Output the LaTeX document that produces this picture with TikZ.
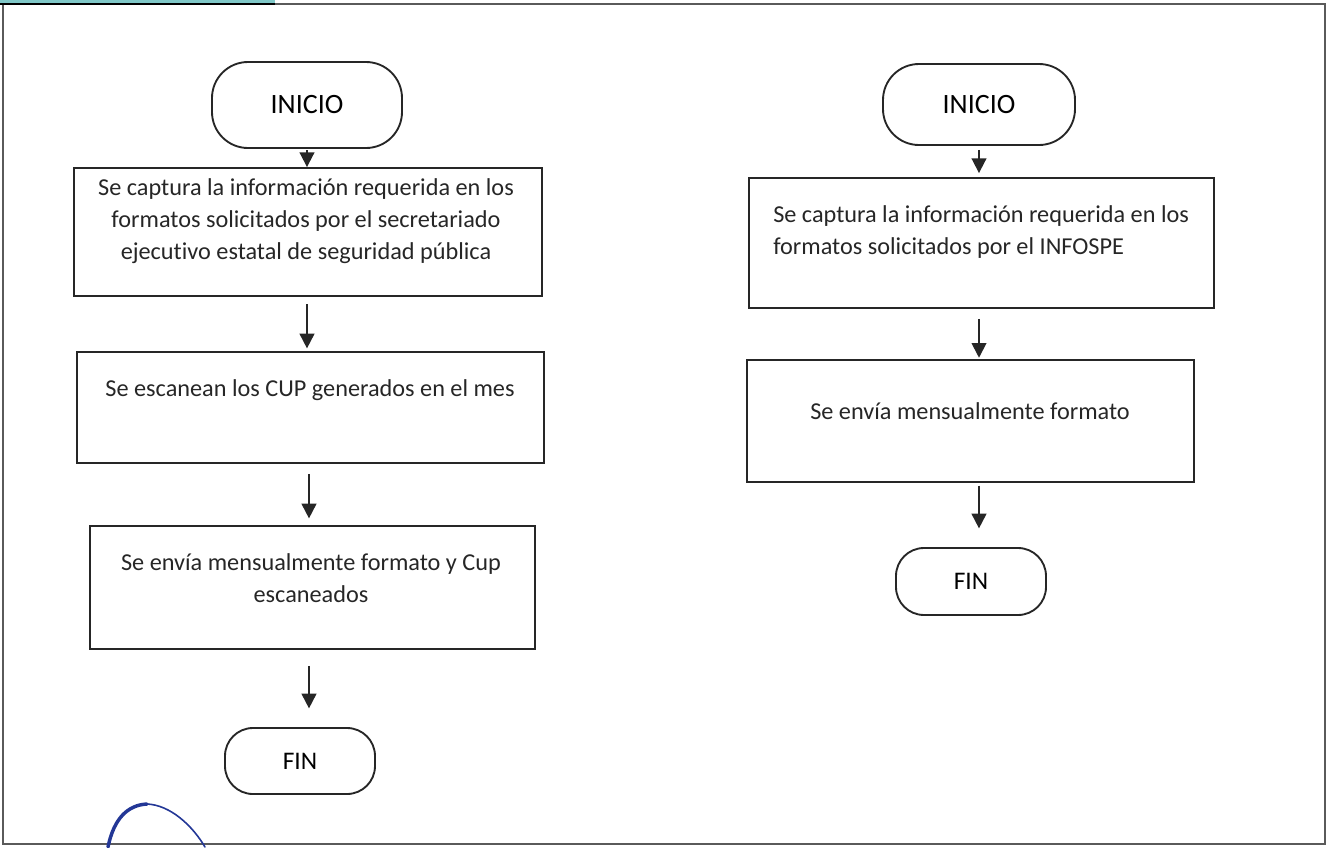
\documentclass[tikz,border=0pt]{standalone}
\usepackage{fontspec}
\setmainfont{Carlito}[RawFeature=-liga]
\usetikzlibrary{arrows.meta}
\definecolor{tealbar}{RGB}{128,200,200}
\definecolor{inkblue}{RGB}{35,55,150}
\definecolor{framegray}{RGB}{90,90,90}
\tikzset{
  terminal/.style={draw=black!85, line width=1.4pt, rounded corners=27pt, inner sep=0pt,
     font=\fontsize{21}{24}\selectfont},
  finbox/.style={draw=black!85, line width=1.4pt, rounded corners=21pt, inner sep=0pt,
     font=\fontsize{19}{22}\selectfont},
  stepbox/.style={draw=black!85, line width=1.4pt, inner sep=0pt},
  bodytext/.style={inner sep=0pt, font=\fontsize{18.2}{24}\selectfont, text=black!85},
  arr/.style={line width=1.4pt, draw=black!85, -{Triangle[width=11pt,length=11pt]}}
}
\begin{document}
\begin{tikzpicture}[x=0.75pt,y=-0.75pt]
\useasboundingbox (0,0) rectangle (1329,847);
% frame
\fill[tealbar] (0,0) rectangle (275,4);
\draw[framegray, line width=1.5pt] (3,4) rectangle (1325,844);
\draw[black, line width=0.8pt] (0,4) -- (275,4);
% ---------- left flow ----------
\node[terminal, minimum width=142.5pt, minimum height=64.5pt] (iniL) at (307,105) {INICIO};
\node[stepbox, minimum width=351pt, minimum height=96pt] (l1) at (308,232) {};
\node[bodytext, align=center] (tl1) at (306,221.5) {Se captura la información requerida en los\\formatos solicitados por el secretariado\\ejecutivo estatal de seguridad pública};
\node[stepbox, minimum width=350.25pt, minimum height=83.25pt] (l2) at (310.5,407.5) {};
\node[bodytext] (tl2) at (310,390) {Se escanean los CUP generados en el mes};
\node[stepbox, minimum width=333.75pt, minimum height=92.25pt] (l3) at (312.5,587.5) {};
\node[bodytext, align=center] (tl3) at (311,578) {Se envía mensualmente formato y Cup\\escaneados};
\node[finbox, minimum width=112.5pt, minimum height=49.5pt] (finL) at (300,761) {FIN};
\draw[arr, shorten <=1pt] (iniL.south) -- (iniL.south |- l1.north);
\draw[arr, shorten <=5.5pt, shorten >=2pt] (307,0 |- l1.south) -- (307,0 |- l2.north);
\draw[arr, shorten <=7.5pt, shorten >=5pt] (309,0 |- l2.south) -- (309,0 |- l3.north);
\draw[arr, shorten <=12pt, shorten >=14pt] (309,0 |- l3.south) -- (309,0 |- finL.north);
% ---------- right flow ----------
\node[terminal, minimum width=144pt, minimum height=60.75pt] (iniR) at (979,104.5) {INICIO};
\node[stepbox, minimum width=348.75pt, minimum height=97.5pt] (r1) at (981.5,243) {};
\node[bodytext, align=left, anchor=west] (tr1) at (773,232) {Se captura la información requerida en los\\formatos solicitados por el INFOSPE};
\node[stepbox, minimum width=335.25pt, minimum height=91.5pt] (r2) at (970.5,421) {};
\node[bodytext] (tr2) at (970,411) {Se envía mensualmente formato};
\node[finbox, minimum width=112.5pt, minimum height=50.25pt] (finR) at (971,581.5) {FIN};
\draw[arr, shorten <=3pt, shorten >=3pt] (iniR.south) -- (iniR.south |- r1.north);
\draw[arr, shorten <=7.5pt, shorten >=1pt] (979,0 |- r1.south) -- (979,0 |- r2.north);
\draw[arr, shorten <=2pt, shorten >=14pt] (979,0 |- r2.south) -- (979,0 |- finR.north);
% ---------- signature stroke ----------
\draw[inkblue, line width=2.6pt, line cap=round] (108,847) .. controls (114,818) and (128,805) .. (147,804);
\draw[inkblue, line width=1.2pt, line cap=round] (147,804) .. controls (170,805) and (192,825) .. (205,847);
\end{tikzpicture}
\end{document}
